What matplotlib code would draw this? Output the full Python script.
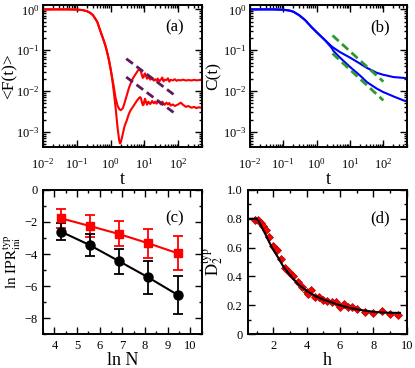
import matplotlib
matplotlib.use('Agg')
import matplotlib.pyplot as plt
import numpy as np
from matplotlib.ticker import MultipleLocator, LogLocator

plt.rcParams['font.family'] = ['Liberation Serif', 'DejaVu Serif']
plt.rcParams['mathtext.fontset'] = 'stix'

# (a) survival probability, two system sizes
t_a_up = [0.01, 0.05, 0.1, 0.15, 0.2, 0.25, 0.3, 0.4, 0.5, 0.6, 0.7, 0.8, 0.9, 1.0, 1.1,
          1.2, 1.4, 1.6, 1.8, 2.0, 2.3, 2.6, 3.0, 3.5, 4.0, 4.5, 5.0, 5.5, 6.0, 6.5, 7.0,
          7.5, 8.0, 8.5, 9.0, 9.5, 10, 10.5, 11, 12, 13, 14, 15, 17, 19, 21, 23, 25, 28,
          31, 34, 37, 40, 45, 50, 55, 60, 70, 80, 90, 100, 120, 140, 170, 200, 250, 300,
          350, 400, 500]
F_a_up = [1.0, 1.0, 0.99, 0.96, 0.9, 0.82, 0.72, 0.5, 0.29, 0.19, 0.13, 0.085, 0.055,
          0.035, 0.022, 0.015, 0.0068, 0.0044, 0.0036, 0.0034, 0.0038, 0.0052, 0.0078,
          0.012, 0.016, 0.02, 0.023, 0.026, 0.029, 0.032, 0.034, 0.033, 0.029, 0.024,
          0.021, 0.022, 0.026, 0.027, 0.024, 0.02, 0.022, 0.021, 0.019, 0.0205, 0.018,
          0.0195, 0.0178, 0.0202, 0.0175, 0.0192, 0.0215, 0.0172, 0.019, 0.0185, 0.0205,
          0.017, 0.0188, 0.0182, 0.0195, 0.0178, 0.0186, 0.0183, 0.019, 0.0181, 0.0186,
          0.0182, 0.0188, 0.0183, 0.0185, 0.0186]
t_a_lo = [0.01, 0.05, 0.1, 0.15, 0.2, 0.25, 0.3, 0.4, 0.5, 0.6, 0.7, 0.8, 0.9, 1.0, 1.1,
          1.2, 1.4, 1.6, 1.8, 1.9, 2.0, 2.3, 2.6, 3.0, 3.5, 4.0, 4.5, 5.0, 6.0, 7.0, 7.5,
          8.0, 8.5, 9.0, 9.5, 10, 10.5, 11, 12, 13, 14, 15, 17, 19, 21, 23, 25, 28, 31,
          34, 37, 40, 45, 50, 55, 60, 70, 80, 90, 100, 120, 140, 170, 200, 250, 300, 350,
          400, 500]
F_a_lo = [1.0, 1.0, 0.99, 0.96, 0.9, 0.82, 0.72, 0.5, 0.29, 0.19, 0.13, 0.085, 0.055,
          0.034, 0.021, 0.012, 0.004, 0.0013, 0.0006, 0.00052, 0.00055, 0.0009, 0.0014,
          0.0019, 0.0028, 0.0035, 0.004, 0.0046, 0.0058, 0.0068, 0.0071, 0.0065, 0.0052,
          0.0045, 0.0046, 0.0058, 0.0065, 0.0056, 0.0046, 0.0055, 0.0052, 0.0048, 0.0057,
          0.005, 0.0055, 0.0049, 0.0056, 0.0052, 0.0047, 0.0055, 0.005, 0.0046, 0.0052,
          0.0047, 0.0051, 0.0044, 0.0047, 0.0043, 0.0045, 0.0047, 0.0052, 0.0046, 0.0041,
          0.0043, 0.0039, 0.0041, 0.0038, 0.004, 0.0039]
t_fit_a = [2.9, 73]
F_fit_a_up = [0.062, 0.0083]
F_fit_a_lo = [0.022, 0.003]

# (b) correlation function
t_b = [0.01, 0.05, 0.1, 0.15, 0.2, 0.3, 0.45, 0.7, 1.1, 1.8, 2.8, 3.2, 5, 10, 20, 32,
       63, 100, 126, 200, 400, 500]
C_b_up = [1.0, 1.0, 0.98, 0.94, 0.88, 0.72, 0.55, 0.37, 0.257, 0.176, 0.125, 0.115,
          0.09, 0.066, 0.047, 0.037, 0.028, 0.025, 0.024, 0.022, 0.021, 0.0205]
C_b_lo = [1.0, 1.0, 0.98, 0.94, 0.88, 0.72, 0.55, 0.37, 0.257, 0.174, 0.115, 0.096,
          0.066, 0.039, 0.024, 0.0166, 0.0115, 0.0094, 0.0087, 0.0074, 0.0059, 0.0056]
t_fit_b = [3.0, 100]
C_fit_b_up = [0.23, 0.017]
C_fit_b_lo = [0.083, 0.0059]

# (c) typical IPR vs ln N
lnN = [4.28, 5.55, 6.84, 8.14, 9.45]
ipr_red = [-1.77, -2.25, -2.75, -3.33, -3.96]
err_red = [0.6, 0.68, 0.78, 0.9, 1.06]
ipr_black = [-2.6, -3.44, -4.44, -5.46, -6.56]
err_black = [0.54, 0.7, 0.78, 1.04, 1.17]

# (d) fractal dimension vs h
h_pts = [0.9, 1.1, 1.25, 1.4, 1.55, 1.75, 2.0, 2.2, 2.45, 2.7, 2.95, 3.2, 3.5, 3.75,
         4.0, 4.1, 4.25, 4.5, 4.75, 5.0, 5.25, 5.5, 5.75, 6.0, 6.25, 6.5, 6.75, 7.0,
         7.5, 8.0, 8.5, 9.0, 9.45]
D2_pts = [0.79, 0.79, 0.77, 0.75, 0.72, 0.67, 0.61, 0.58, 0.52, 0.46, 0.43, 0.4, 0.36,
          0.33, 0.29, 0.28, 0.305, 0.26, 0.26, 0.24, 0.23, 0.22, 0.22, 0.19, 0.21, 0.19,
          0.19, 0.175, 0.155, 0.15, 0.158, 0.139, 0.132]
h_fit = [0.6, 1.0, 1.15, 1.3, 1.5, 1.75, 2.0, 2.3, 2.6, 3.0, 3.5, 4.0, 4.5, 5.0, 5.5,
         6.0, 6.5, 7.0, 7.5, 8.0, 8.5, 9.0, 9.6]
D2_fit = [0.8, 0.8, 0.78, 0.745, 0.7, 0.64, 0.585, 0.53, 0.47, 0.41, 0.345, 0.3, 0.265,
          0.24, 0.22, 0.2, 0.185, 0.172, 0.163, 0.155, 0.15, 0.148, 0.147]

fig = plt.figure(figsize=(4.15, 3.68), dpi=100)
ax_a = fig.add_axes([0.104, 0.601, 0.382, 0.385])
ax_b = fig.add_axes([0.602, 0.601, 0.378, 0.385])
ax_c = fig.add_axes([0.104, 0.092, 0.382, 0.392])
ax_d = fig.add_axes([0.598, 0.092, 0.382, 0.392])

def style(ax, xpad=5, ypad=5):
    for s in ax.spines.values():
        s.set_linewidth(1.4)
    ax.tick_params(which='both', direction='in', top=True, right=True, labelsize=9, width=1)
    ax.tick_params(which='major', length=5)
    ax.tick_params(which='minor', length=2.5)
    ax.tick_params(axis='x', which='both', pad=xpad)
    ax.tick_params(axis='y', which='both', pad=ypad)

purple = '#5e1a5e'
green = '#2e9a2e'

# panel (a)
ax_a.plot(t_a_up, F_a_up, color='red', lw=1.5)
ax_a.plot(t_a_lo, F_a_lo, color='red', lw=1.5)
ax_a.plot(t_fit_a, F_fit_a_up, color=purple, lw=2, dashes=(3, 1.6))
ax_a.plot(t_fit_a, F_fit_a_lo, color=purple, lw=2, dashes=(3, 1.6))

# panel (b)
ax_b.plot(t_b, C_b_up, color='blue', lw=1.5)
ax_b.plot(t_b, C_b_lo, color='blue', lw=1.5)
ax_b.plot(t_fit_b, C_fit_b_up, color=green, lw=2, dashes=(3, 1.6))
ax_b.plot(t_fit_b, C_fit_b_lo, color=green, lw=2, dashes=(3, 1.6))

for ax, lab, yl, ylx in [(ax_a, '(a)', '<F(t)>', -0.16), (ax_b, '(b)', 'C(t)', -0.18)]:
    ax.set_xscale('log')
    ax.set_yscale('log')
    ax.set_xlim(1e-2, 500)
    ax.set_ylim(4.3e-4, 1.27)
    ax.xaxis.set_major_locator(LogLocator(base=10, numticks=10))
    ax.xaxis.set_minor_locator(LogLocator(base=10, subs=np.arange(2, 10), numticks=10))
    ax.yaxis.set_minor_locator(LogLocator(base=10, subs=np.arange(2, 10), numticks=10))
    style(ax, xpad=7, ypad=2.5)
    ax.set_xlabel('t', fontsize=13, labelpad=0)
    ax.set_ylabel(yl, fontsize=12.5)
    ax.yaxis.set_label_coords(ylx, 0.5)
    ax.text(0.83, 0.845, lab, transform=ax.transAxes, fontsize=12, ha='center', va='center')

# panel (c)
ax_c.errorbar(lnN, ipr_red, yerr=err_red, color='red', marker='s', ms=5.5,
              lw=1.5, capsize=3.5, elinewidth=1.3, capthick=1.3)
ax_c.errorbar(lnN, ipr_black, yerr=err_black, color='black', marker='o', ms=6.5,
              lw=1.5, capsize=3.5, elinewidth=1.3, capthick=1.3)
ax_c.set_xlim(3.5, 10.5)
ax_c.set_ylim(-9, 0)
ax_c.xaxis.set_major_locator(MultipleLocator(1))
ax_c.xaxis.set_minor_locator(MultipleLocator(0.5))
ax_c.yaxis.set_major_locator(MultipleLocator(2))
ax_c.yaxis.set_minor_locator(MultipleLocator(1))
style(ax_c, xpad=4, ypad=4)
ax_c.set_xlabel('ln N', fontsize=13, labelpad=0)
ax_c.set_ylabel(r'$\mathrm{ln\ IPR}_{\mathrm{ini}}^{\mathrm{typ}}$', fontsize=11)
ax_c.yaxis.set_label_coords(-0.13, 0.5)
ax_c.text(0.83, 0.80, '(c)', transform=ax_c.transAxes, fontsize=12, ha='center', va='center')

# panel (d)
ax_d.plot(h_pts, D2_pts, linestyle='none', marker='D', ms=4, color='red',
          markeredgecolor='#aa0000', markeredgewidth=0.5)
ax_d.plot(h_fit, D2_fit, color='black', lw=1.5)
ax_d.set_xlim(0.5, 10)
ax_d.set_ylim(0, 1)
ax_d.xaxis.set_major_locator(MultipleLocator(2))
ax_d.xaxis.set_minor_locator(MultipleLocator(1))
ax_d.yaxis.set_major_locator(MultipleLocator(0.2))
ax_d.yaxis.set_minor_locator(MultipleLocator(0.1))
ax_d.yaxis.set_major_formatter(plt.FuncFormatter(lambda v, p: '0' if v == 0 else ('1' if v == 1 else f'{v:.1f}')))
style(ax_d, xpad=4, ypad=4)
ax_d.set_xlabel('h', fontsize=13, labelpad=0)
ax_d.set_ylabel(r'$\tilde{\mathrm{D}}_2^{\mathrm{typ}}$', fontsize=12)
ax_d.yaxis.set_label_coords(-0.145, 0.5)
ax_d.text(0.83, 0.80, '(d)', transform=ax_d.transAxes, fontsize=12, ha='center', va='center')

fig.savefig('out.png', dpi=100)
